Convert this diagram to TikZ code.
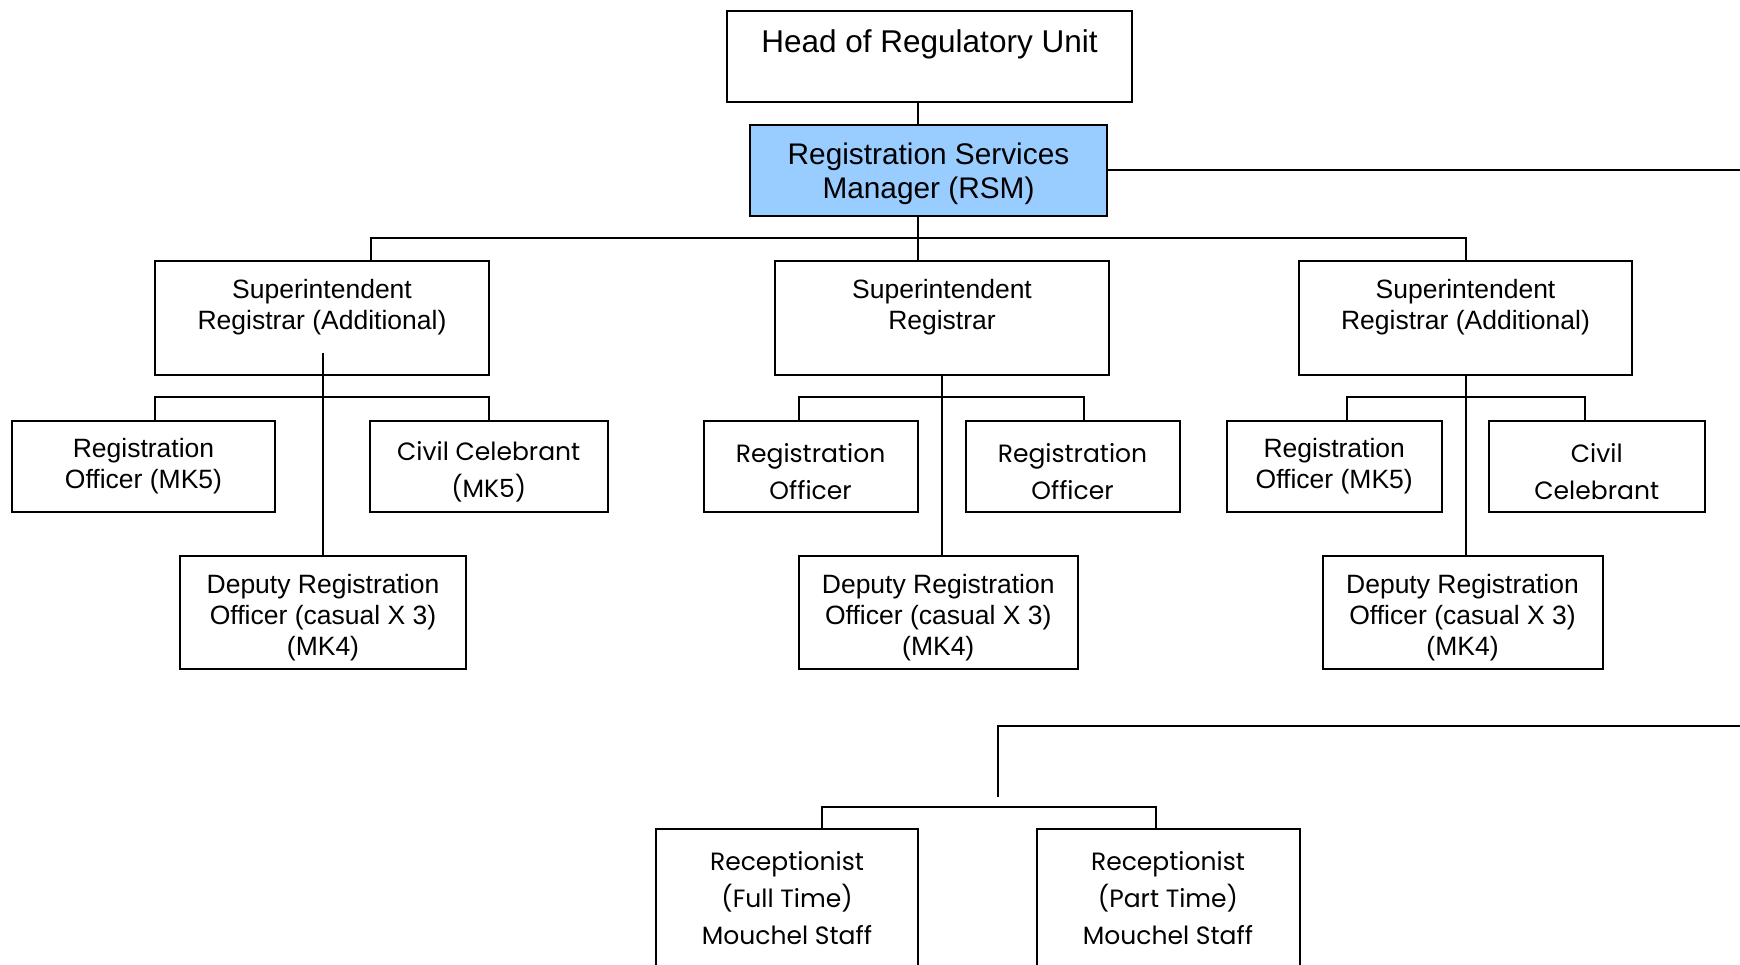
\documentclass[tikz,border=0pt]{standalone}
\usepackage{fontspec}
\setmainfont{Liberation Sans}
\newfontfamily\comicfont{Poppins}
\definecolor{rsmblue}{HTML}{99CCFF}
\begin{document}
\begin{tikzpicture}[x=1pt,y=-1pt,
  box/.style={draw, rectangle, inner sep=0pt, line width=2pt},
  headtxt/.style={font=\fontsize{31.5}{36}\selectfont, align=center, inner sep=0pt},
  rsmtxt/.style={font=\fontsize{29.8}{33.5}\selectfont, align=center, inner sep=0pt},
  arial/.style={font=\fontsize{26.5}{31}\selectfont, align=center, inner sep=0pt},
  comic/.style={font=\comicfont\fontsize{25}{37}\selectfont, align=center, inner sep=0pt},
  conn/.style={draw, line width=2pt}
]
\useasboundingbox (0,0) rectangle (1740,965);
\fill[white] (0,0) rectangle (1740,965);
\clip (0,0) rectangle (1740,965);

% boxes
\node[box, minimum width=405pt, minimum height=91pt] (head) at (929.5,56.5) {};
\node[headtxt] (headt) at (929.5,44.5) {Head of Regulatory Unit};
\node[box, fill=rsmblue, minimum width=357pt, minimum height=91pt] (rsm) at (928.5,170.5) {};
\node[rsmtxt] (rsmt) at (928.5,174) {Registration Services\\Manager (RSM)};

\node[box, minimum width=334pt, minimum height=114pt] (sr1) at (322,318) {};
\node[arial] (sr1t) at (322,307) {Superintendent\\Registrar (Additional)};
\node[box, minimum width=334pt, minimum height=114pt] (sr2) at (942,318) {};
\node[arial] (sr2t) at (942,307) {Superintendent\\Registrar};
\node[box, minimum width=333pt, minimum height=114pt] (sr3) at (1465.5,318) {};
\node[arial] (sr3t) at (1465.5,307) {Superintendent\\Registrar (Additional)};

\node[box, minimum width=263pt, minimum height=91pt] (ro1) at (143.5,466.5) {};
\node[arial] (ro1t) at (143.5,466) {Registration\\Officer (MK5)};
\node[box, minimum width=238.5pt, minimum height=91pt] (cc1) at (488.75,466.5) {};
\node[comic] (cc1t) at (488.75,472) {Civil Celebrant\\(MK5)};
\node[box, minimum width=286pt, minimum height=113pt] (dep1) at (323,612.5) {};
\node[arial] (dep1t) at (323,618) {Deputy Registration\\Officer (casual X 3)\\(MK4)};

\node[box, minimum width=214pt, minimum height=91pt] (ro2a) at (810.6,466.5) {};
\node[comic] (ro2at) at (810.6,472) {Registration\\Officer};
\node[box, minimum width=214pt, minimum height=91pt] (ro2b) at (1072.5,466.5) {};
\node[comic] (ro2bt) at (1072.5,472) {Registration\\Officer};
\node[box, minimum width=278.5pt, minimum height=113pt] (dep2) at (938.25,612.5) {};
\node[arial] (dep2t) at (938.25,618) {Deputy Registration\\Officer (casual X 3)\\(MK4)};

\node[box, minimum width=214.5pt, minimum height=91pt] (ro3) at (1334.25,466.5) {};
\node[arial] (ro3t) at (1334.25,466) {Registration\\Officer (MK5)};
\node[box, minimum width=215.5pt, minimum height=91pt] (cc3) at (1596.75,466.5) {};
\node[comic] (cc3t) at (1596.75,472) {Civil\\Celebrant};
\node[box, minimum width=280pt, minimum height=113pt] (dep3) at (1462.5,612.5) {};
\node[arial] (dep3t) at (1462.5,618) {Deputy Registration\\Officer (casual X 3)\\(MK4)};

\node[box, minimum width=262pt, minimum height=146pt] (rec1) at (787,902) {};
\node[comic] (rec1t) at (787,898) {Receptionist\\(Full Time)\\Mouchel Staff};
\node[box, minimum width=263pt, minimum height=146pt] (rec2) at (1168,902) {};
\node[comic] (rec2t) at (1168,898) {Receptionist\\(Part Time)\\Mouchel Staff};

% coordinates
\coordinate (spine) at (918,0);
\coordinate (busL) at (370.6,238);
\coordinate (busR) at (1466,238);
\coordinate (rsmEnd) at (1740,170.5);
\coordinate (sr1in) at (323,353);
\coordinate (sb1L) at (155,397);
\coordinate (sb1R) at (489,397);
\coordinate (sb2L) at (799,397);
\coordinate (sb2R) at (1084,397);
\coordinate (sb3L) at (1347,397);
\coordinate (sb3R) at (1585,397);
\coordinate (lowEnd) at (1740,725.7);
\coordinate (lowCorner) at (997.6,725.7);
\coordinate (lowFoot) at (997.6,796.8);
\coordinate (sb4L) at (822.3,806.7);
\coordinate (sb4R) at (1156.3,806.7);

% connectors
\draw[conn] (head.south -| spine) -- (rsm.north -| spine);
\draw[conn] (rsm.south -| spine) -- (sr2.north -| spine);
\draw[conn] (sr1.north -| busL) -- (busL) -- (busR) -- (sr3.north -| busR);
\draw[conn] (rsm.east) -- (rsmEnd);

\draw[conn] (sr1in) -- (dep1.north -| sr1in);
\draw[conn] (ro1.north -| sb1L) -- (sb1L) -- (sb1R) -- (cc1.north -| sb1R);

\draw[conn] (sr2.south) -- (sr2.south |- dep2.north);
\draw[conn] (ro2a.north -| sb2L) -- (sb2L) -- (sb2R) -- (ro2b.north -| sb2R);

\draw[conn] (sr3.south) -- (sr3.south |- dep3.north);
\draw[conn] (ro3.north -| sb3L) -- (sb3L) -- (sb3R) -- (cc3.north -| sb3R);

\draw[conn] (lowEnd) -- (lowCorner) -- (lowFoot);
\draw[conn] (rec1.north -| sb4L) -- (sb4L) -- (sb4R) -- (rec2.north -| sb4R);
\end{tikzpicture}
\end{document}
